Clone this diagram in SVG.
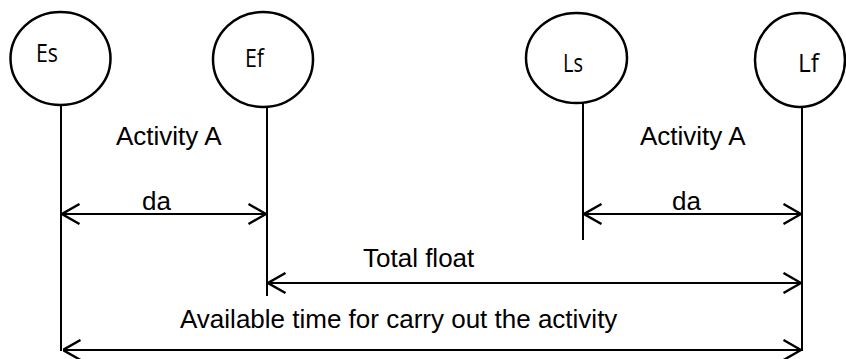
<svg xmlns="http://www.w3.org/2000/svg" width="846" height="359" viewBox="0 0 846 359">
  <style>
    .node { fill: #fff; stroke: #000; stroke-width: 2.5; }
    .nlabel { font-family: "Open Sans", "Liberation Sans", sans-serif; font-size: 26px; fill: #000; }
    .label { font-family: "Liberation Sans", Arial, sans-serif; font-size: 26px; fill: #000; }
    .tick { stroke: #000; stroke-width: 2; fill: none; }
    .dim { stroke: #000; stroke-width: 2.2; fill: none; marker-start: url(#head); marker-end: url(#head); }
  </style>
  <defs>
    <!-- open V arrowhead, tip at the line end -->
    <marker id="head" viewBox="0 0 20 22" refX="19.5" refY="11" markerWidth="20" markerHeight="22" markerUnits="userSpaceOnUse" orient="auto-start-reverse">
      <path d="M2,1 L19.5,11 L2,21" fill="none" stroke="#000" stroke-width="2.4"/>
    </marker>
  </defs>

  <!-- event nodes -->
  <g id="node-es">
    <ellipse class="node" cx="60.5" cy="58.5" rx="50" ry="46.5"/>
    <text class="nlabel" x="36" y="62" textLength="22" lengthAdjust="spacingAndGlyphs">Es</text>
  </g>
  <g id="node-ef">
    <ellipse class="node" cx="263" cy="59.5" rx="50" ry="47.5"/>
    <text class="nlabel" x="245" y="67" textLength="19" lengthAdjust="spacingAndGlyphs">Ef</text>
  </g>
  <g id="node-ls">
    <ellipse class="node" cx="576.5" cy="58" rx="50.5" ry="45"/>
    <text class="nlabel" x="563" y="72" textLength="20" lengthAdjust="spacingAndGlyphs">Ls</text>
  </g>
  <g id="node-lf">
    <ellipse class="node" cx="800" cy="60" rx="45" ry="47"/>
    <text class="nlabel" x="798" y="72" textLength="21" lengthAdjust="spacingAndGlyphs">Lf</text>
  </g>

  <!-- extension lines and dimension arrows -->
  <g id="connectors">
    <line class="tick" x1="61" y1="105" x2="61" y2="351"/>
    <line class="tick" x1="267" y1="107" x2="267" y2="296"/>
    <line class="tick" x1="583" y1="103" x2="583" y2="240"/>
    <line class="tick" x1="802" y1="107" x2="802" y2="351"/>

    <line class="dim" x1="62" y1="214" x2="266" y2="214"/>
    <line class="dim" x1="584" y1="214" x2="801" y2="214"/>
    <line class="dim" x1="268" y1="283" x2="801" y2="283"/>
    <line class="dim" x1="63" y1="350" x2="801" y2="350"/>
  </g>

  <!-- labels -->
  <g id="labels">
    <text class="label" x="116" y="145">Activity A</text>
    <text class="label" x="142" y="210">da</text>
    <text class="label" x="640" y="145">Activity A</text>
    <text class="label" x="672" y="210">da</text>
    <text class="label" x="363" y="267">Total float</text>
    <text class="label" x="180" y="328">Available time for carry out the activity</text>
  </g>
</svg>
